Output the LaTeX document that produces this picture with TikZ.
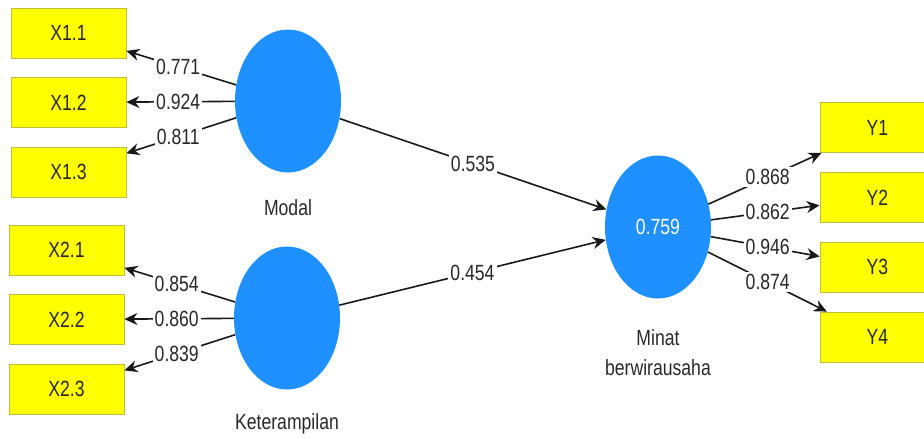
\documentclass[tikz,border=0pt]{standalone}
\usepackage{fontspec}
\setmainfont{Liberation Sans}[FakeStretch=0.8]
\usetikzlibrary{shapes.geometric,arrows.meta,calc}
\definecolor{boxyellow}{RGB}{255,255,0}
\definecolor{boxedge}{RGB}{190,190,60}
\definecolor{latblue}{RGB}{30,144,255}
\definecolor{txt}{RGB}{40,40,40}
\definecolor{arrowc}{RGB}{25,25,25}
\tikzset{
  ind/.style={rectangle, draw=boxedge, line width=0.8pt, fill=boxyellow, minimum width=115pt, minimum height=50pt, inner sep=0pt, font=\fontsize{22}{26}\selectfont, text=txt},
  lat/.style={ellipse, fill=latblue, minimum width=106pt, minimum height=143pt, inner sep=0pt, font=\fontsize{22}{26}\selectfont, text=white},
  latname/.style={font=\fontsize{22}{26}\selectfont, text=txt, inner sep=0pt, align=center},
  arr/.style={draw=arrowc, line width=1.6pt, -{Stealth[length=13pt,width=12pt]}},
  lbl/.style={fill=white, inner sep=2pt, font=\fontsize{22}{26}\selectfont, text=txt}
}
\begin{document}
\begin{tikzpicture}[x=1pt,y=-1pt]
\clip (0,0) rectangle (924,439);
\useasboundingbox (0,0) rectangle (924,439);
% indicators
\node[ind] (x11) at (68.5,33) {X1.1};
\node[ind] (x12) at (68.5,102.5) {X1.2};
\node[ind] (x13) at (68.5,172) {X1.3};
\node[ind] (x21) at (66.5,250) {X2.1};
\node[ind] (x22) at (66.5,319.5) {X2.2};
\node[ind] (x23) at (66.5,389) {X2.3};
\node[ind] (y1) at (877.5,127.5) {Y1};
\node[ind] (y2) at (877.5,197.5) {Y2};
\node[ind] (y3) at (877.5,267) {Y3};
\node[ind] (y4) at (877.5,337) {Y4};
% latents
\node[lat] (mod) at (288,101) {};
\node[lat] (ket) at (287,318) {};
\node[lat] (min) at (658,227) {0.759};
\node[latname] (modn) at (288,208) {Modal};
\node[latname] (ketn) at (287,424) {Keterampilan};
\node[latname] (minn) at (658,353) {Minat\\[4pt]berwirausaha};
% arrows
\draw[arr] (mod) -- (x11);
\draw[arr] (mod) -- (x12);
\draw[arr] (mod) -- (x13);
\draw[arr] (ket) -- (x21);
\draw[arr] (ket) -- (x22);
\draw[arr] (ket) -- (x23);
\draw[arr] (mod) -- (min);
\draw[arr] (ket) -- (min);
\draw[arr] (min) -- (y1);
\draw[arr] (min) -- (y2);
\draw[arr] (min) -- (y3);
\draw[arr] (min) -- (y4);
% labels
\node[lbl] (l11) at ($(mod)!0.5!(x11)$) {0.771};
\node[lbl] (l12) at ($(mod)!0.5!(x12)$) {0.924};
\node[lbl] (l13) at ($(mod)!0.5!(x13)$) {0.811};
\node[lbl] (l21) at ($(ket)!0.5!(x21)$) {0.854};
\node[lbl] (l22) at ($(ket)!0.5!(x22)$) {0.860};
\node[lbl] (l23) at ($(ket)!0.5!(x23)$) {0.839};
\node[lbl] (lm) at ($(mod)!0.5!(min)$) {0.535};
\node[lbl] (lk) at ($(ket)!0.5!(min)$) {0.454};
\node[lbl] (ly1) at ($(min)!0.5!(y1)$) {0.868};
\node[lbl] (ly2) at ($(min)!0.5!(y2)$) {0.862};
\node[lbl] (ly3) at ($(min)!0.5!(y3)$) {0.946};
\node[lbl] (ly4) at ($(min)!0.5!(y4)$) {0.874};
\end{tikzpicture}
\end{document}
